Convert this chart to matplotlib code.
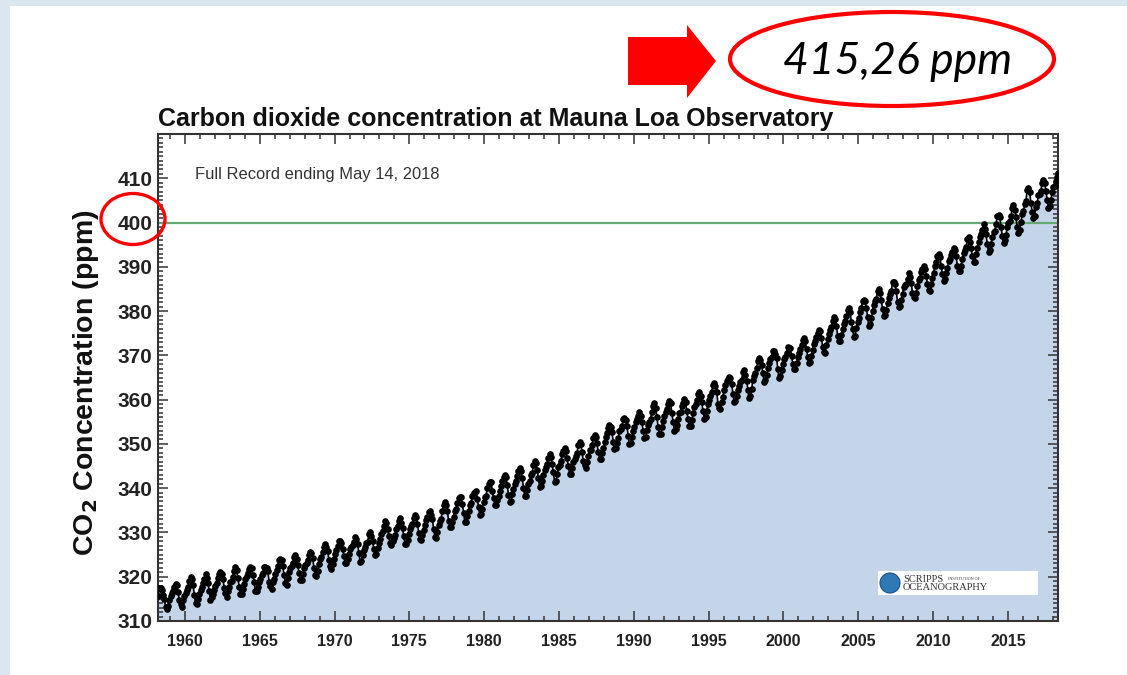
import numpy as np
import matplotlib
matplotlib.use("Agg")
import matplotlib.pyplot as plt
from matplotlib.patches import Ellipse, Polygon, Rectangle, Circle

# monthly mean CO2 at Mauna Loa (ppm), first value is March 1958
start_year = 1958
start_month = 3
co2_ppm = [
    315.71, 317.45, 317.50, 317.10, 315.86, 314.93, 313.20, 312.66, 313.33, 314.67,
    315.62, 316.38, 316.71, 317.72, 318.29, 318.15, 316.54, 314.80, 313.84, 313.26, 314.80, 315.58,
    316.43, 316.97, 317.58, 319.02, 320.03, 319.59, 318.18, 315.91, 314.16, 313.83, 315.00, 316.19,
    316.93, 317.70, 318.54, 319.48, 320.58, 319.77, 318.57, 316.79, 314.80, 315.38, 316.10, 317.01,
    317.94, 318.56, 319.68, 320.63, 321.01, 320.55, 319.58, 317.40, 316.26, 315.42, 316.69, 317.69,
    318.74, 319.08, 319.86, 321.39, 322.25, 321.47, 319.74, 317.77, 316.21, 315.99, 317.12, 318.31,
    319.57, 320.07, 320.73, 321.77, 322.25, 321.89, 320.44, 318.70, 316.70, 316.79, 317.79, 318.71,
    319.44, 320.44, 320.89, 322.13, 322.16, 321.87, 321.39, 318.81, 317.81, 317.30, 318.87, 319.42,
    320.62, 321.59, 322.39, 323.87, 324.01, 323.75, 322.39, 320.37, 318.64, 318.10, 319.79, 321.08,
    322.07, 322.50, 323.04, 324.42, 325.00, 324.09, 322.55, 320.92, 319.31, 319.31, 320.72, 321.96,
    322.57, 323.15, 323.89, 325.02, 325.57, 325.36, 324.14, 322.03, 320.41, 320.25, 321.31, 322.84,
    324.00, 324.42, 325.64, 326.66, 327.34, 326.76, 325.88, 323.67, 322.38, 321.78, 322.85, 324.11,
    325.03, 325.99, 326.87, 328.13, 328.07, 327.66, 326.35, 324.69, 323.10, 323.16, 323.98, 325.13,
    326.17, 326.68, 327.18, 327.78, 328.92, 328.57, 327.34, 325.46, 323.36, 323.57, 324.80, 326.01,
    326.77, 327.63, 327.75, 329.72, 330.07, 329.09, 328.05, 326.32, 324.93, 325.06, 326.50, 327.55,
    328.54, 329.56, 330.30, 331.50, 332.48, 332.07, 330.87, 329.31, 327.51, 327.18, 328.16, 328.64,
    329.35, 330.71, 331.48, 332.65, 333.20, 332.16, 331.07, 329.12, 327.32, 327.28, 328.30, 329.58,
    330.73, 331.46, 331.90, 333.17, 333.94, 333.45, 331.98, 329.95, 328.50, 328.34, 329.37, 330.58,
    331.59, 332.75, 333.52, 334.64, 334.77, 334.00, 333.06, 330.68, 328.95, 328.75, 330.15, 331.62,
    332.66, 333.13, 334.95, 336.13, 336.93, 336.17, 334.88, 332.56, 331.29, 331.27, 332.41, 333.60,
    334.95, 335.25, 336.66, 337.69, 338.03, 338.01, 336.41, 334.41, 332.37, 332.41, 333.75, 334.90,
    336.14, 336.69, 338.27, 338.95, 339.21, 339.26, 337.54, 335.75, 333.98, 334.19, 335.31, 336.81,
    337.90, 338.34, 340.01, 340.93, 341.48, 341.33, 339.40, 337.70, 336.19, 336.15, 337.27, 338.32,
    339.29, 340.55, 341.61, 342.53, 343.03, 342.54, 340.78, 338.44, 336.95, 337.08, 338.58, 339.88,
    340.96, 341.73, 342.81, 343.97, 344.63, 343.79, 342.32, 340.09, 338.28, 338.29, 339.60, 340.90,
    341.68, 342.90, 343.33, 345.25, 346.03, 345.63, 344.19, 342.27, 340.35, 340.38, 341.59, 343.05,
    344.10, 344.79, 345.52, 346.84, 347.63, 346.98, 345.53, 343.55, 341.40, 341.67, 343.10, 344.70,
    345.21, 346.16, 347.74, 348.34, 349.06, 348.38, 346.71, 345.02, 343.27, 343.13, 344.49, 345.88,
    346.56, 347.28, 348.01, 349.77, 350.38, 349.93, 348.16, 346.08, 345.22, 344.51, 345.93, 347.22,
    348.52, 348.73, 349.73, 351.31, 352.09, 351.53, 350.11, 348.08, 346.52, 346.59, 347.96, 349.16,
    350.39, 351.64, 352.41, 353.69, 354.21, 353.72, 352.69, 350.40, 348.92, 349.13, 350.20, 351.41,
    352.91, 353.27, 353.96, 355.64, 355.86, 355.37, 353.99, 351.81, 350.05, 350.25, 351.49, 352.85,
    353.80, 355.04, 355.73, 356.32, 357.32, 356.34, 354.84, 353.01, 351.31, 351.62, 353.07, 354.33,
    354.84, 355.73, 357.23, 358.66, 359.13, 358.13, 356.19, 353.85, 352.25, 352.35, 353.81, 355.12,
    356.25, 357.11, 357.86, 359.09, 359.59, 359.33, 357.01, 354.94, 352.96, 353.32, 354.32, 355.57,
    357.00, 357.31, 358.47, 359.27, 360.19, 359.52, 357.33, 355.64, 354.03, 354.12, 355.41, 356.91,
    358.24, 358.92, 359.99, 361.23, 361.65, 360.81, 359.38, 357.46, 355.73, 356.07, 357.53, 358.98,
    359.92, 360.86, 361.83, 363.30, 363.69, 363.19, 361.64, 359.12, 358.17, 357.99, 359.45, 360.68,
    362.07, 363.24, 364.17, 364.57, 365.13, 364.92, 363.55, 361.38, 359.54, 359.58, 360.89, 362.24,
    363.09, 364.03, 364.51, 366.35, 366.64, 365.59, 364.31, 362.25, 360.29, 360.82, 362.49, 364.38,
    365.26, 365.98, 367.24, 368.66, 369.42, 368.99, 367.82, 365.95, 364.02, 364.40, 365.52, 367.13,
    368.18, 369.07, 369.68, 370.99, 370.96, 370.30, 369.45, 366.90, 364.81, 365.37, 366.72, 368.10,
    369.29, 369.54, 370.60, 371.82, 371.58, 371.70, 369.86, 368.13, 367.00, 367.03, 368.37, 369.67,
    370.59, 371.51, 372.43, 373.37, 373.85, 373.21, 371.51, 369.61, 368.18, 368.45, 369.76, 371.24,
    372.53, 373.20, 374.12, 375.02, 375.76, 375.52, 374.01, 371.85, 370.75, 370.55, 372.25, 373.79,
    374.88, 375.64, 376.45, 377.73, 378.60, 378.28, 376.70, 374.38, 373.17, 373.15, 374.66, 375.99,
    377.00, 377.87, 378.88, 380.35, 380.62, 379.69, 377.47, 376.01, 374.25, 374.46, 376.16, 377.51,
    378.46, 379.73, 380.77, 382.29, 382.45, 382.21, 380.74, 378.74, 376.70, 377.00, 378.35, 380.11,
    381.38, 382.19, 382.67, 384.61, 385.03, 384.05, 382.46, 380.41, 378.85, 379.13, 380.15, 381.82,
    382.89, 383.90, 384.58, 386.50, 386.56, 386.10, 384.50, 381.99, 380.96, 381.12, 382.45, 383.95,
    385.52, 385.82, 386.03, 387.21, 388.54, 387.76, 386.36, 384.09, 383.18, 382.99, 384.19, 385.56,
    386.94, 387.48, 388.82, 389.55, 390.14, 389.48, 388.03, 386.11, 384.74, 384.43, 386.02, 387.42,
    388.71, 390.20, 391.17, 392.46, 393.00, 392.15, 390.20, 388.35, 386.85, 387.24, 388.67, 389.79,
    391.33, 391.86, 392.60, 393.25, 394.19, 393.74, 392.51, 390.13, 389.08, 389.00, 390.28, 391.86,
    393.12, 393.86, 394.40, 396.18, 396.74, 395.71, 394.36, 392.39, 391.11, 391.05, 392.98, 394.34,
    395.55, 396.80, 397.43, 398.41, 399.78, 398.60, 397.32, 395.20, 393.45, 393.70, 395.16, 396.84,
    397.85, 398.01, 399.77, 401.38, 401.78, 401.25, 399.10, 397.03, 395.38, 396.03, 397.28, 398.91,
    399.98, 400.28, 401.54, 403.28, 403.96, 402.80, 401.31, 398.93, 397.63, 398.29, 400.16, 401.85,
    402.56, 404.12, 404.87, 407.45, 407.72, 406.83, 404.41, 402.27, 401.05, 401.59, 403.55, 404.45,
    406.17, 406.46, 407.22, 409.04, 409.69, 408.88, 407.12, 405.13, 403.37, 403.63, 405.12, 406.81,
    407.96, 408.32, 409.41, 410.24, 411.24,
]
year_ticks = [1960, 1965, 1970, 1975, 1980, 1985, 1990, 1995, 2000, 2005, 2010, 2015]
ppm_ticks = [310, 320, 330, 340, 350, 360, 370, 380, 390, 400, 410]
reference_level = 400
latest_label = "415,26 ppm"

W, H = 1127, 675
fig = plt.figure(figsize=(W / 100, H / 100), dpi=100)
fig.patch.set_facecolor("#dce6f1")


def px(x0, y0, x1, y1):
    return [x0 / W, 1 - y1 / H, (x1 - x0) / W, (y1 - y0) / H]


# white slide panel behind everything
bg = fig.add_axes([0, 0, 1, 1], zorder=-5)
bg.set_xlim(0, W)
bg.set_ylim(H, 0)
bg.axis("off")
bg.add_patch(Rectangle((10, 6), W, H, facecolor="white", edgecolor="none"))

ax = fig.add_axes(px(158, 134, 1058, 621), zorder=1)
ax.set_facecolor("white")

n = len(co2_ppm)
months = np.arange(n) + (start_month - 1)
t = start_year + (months + 0.5) / 12.0
vals = np.array(co2_ppm)

ax.fill_between(t, 300, vals, color="#c5d5e9", lw=0, zorder=1)
ax.axhline(reference_level, color="#64a872", lw=1.6, zorder=2)
ax.plot(t, vals, "-", color="black", lw=1.2, zorder=3)
ax.plot(t, vals, "o", color="black", markersize=4.8, markeredgewidth=0, zorder=3)

ax.set_xlim(1958.2, 2018.35)
ax.set_ylim(310, 420)
ax.set_xticks(year_ticks)
ax.set_xticks(np.arange(1959, 2019), minor=True)
ax.set_yticks(ppm_ticks)
ax.set_yticks(np.arange(310, 421), minor=True)
ax.tick_params(which="both", direction="in", top=True, right=True, color="#333333", width=1.1)
ax.tick_params(which="major", length=7)
ax.tick_params(which="minor", length=3.5)
ax.tick_params(axis="x", labelsize=11.5, pad=9)
ax.tick_params(axis="y", labelsize=15, pad=4)
for lab in ax.get_xticklabels() + ax.get_yticklabels():
    lab.set_fontweight("bold")
    lab.set_family("Liberation Sans")
    lab.set_color("#222222")
for sp in ax.spines.values():
    sp.set_color("#333333")
    sp.set_linewidth(1.5)

ax.set_ylabel("CO$_\\mathbf{2}$ Concentration (ppm)", fontsize=20.5, fontweight="bold",
              family="Liberation Sans", color="#111111")
ax.yaxis.set_label_coords(-0.063, 0.49)

fig.text(158 / W, 1 - 126 / H, "Carbon dioxide concentration at Mauna Loa Observatory",
         fontsize=18, fontweight="bold", family="Liberation Sans", color="#111111")
fig.text(195 / W, 1 - 175 / H, "Full Record ending May 14, 2018", fontsize=11.9,
         family="Liberation Sans", color="#333333", va="center")

# Scripps logo box
logo = fig.add_axes(px(878, 571, 1038, 595), zorder=2)
logo.set_xlim(0, 160)
logo.set_ylim(24, 0)
logo.axis("off")
logo.add_patch(Rectangle((0, 0), 160, 24, facecolor="white", edgecolor="none"))
logo.add_patch(Circle((12, 12), 10, facecolor="#2f79b5", edgecolor="#1c4f86", lw=0.8))
logo.text(25, 8, "SCRIPPS", fontsize=7.5, family="Liberation Serif", color="#333333", va="center")
logo.text(70, 8, "INSTITUTION OF", fontsize=3, family="Liberation Serif", color="#333333", va="center")
logo.text(25, 17, "OCEANOGRAPHY", fontsize=7.5, family="Liberation Serif", color="#333333", va="center")

# annotation overlay in pixel coordinates
ov = fig.add_axes([0, 0, 1, 1], facecolor="none", zorder=3)
ov.set_xlim(0, W)
ov.set_ylim(H, 0)
ov.axis("off")
ov.add_patch(Polygon([(628, 37), (687, 37), (687, 25), (716, 61), (687, 98), (687, 85), (628, 85)],
                     closed=True, facecolor="#ff0000", edgecolor="none"))
ov.add_patch(Ellipse((892, 59), 324, 94, facecolor="none", edgecolor="#ff0000", lw=3))
ov.text(898, 61, latest_label, fontsize=32, style="italic", family="Lato",
        ha="center", va="center", color="black")
ov.add_patch(Ellipse((133, 219), 64, 51, facecolor="none", edgecolor="#ff0000", lw=2.4))

fig.savefig("out.png", dpi=100, facecolor=fig.get_facecolor())
